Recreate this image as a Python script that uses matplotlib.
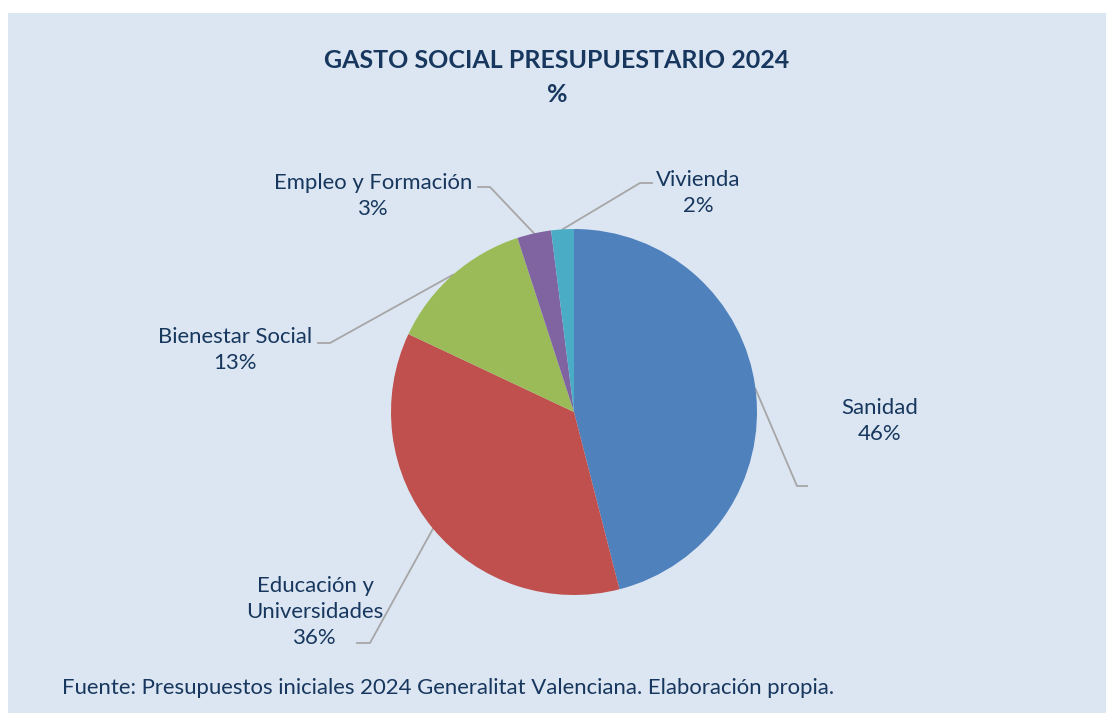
import matplotlib
matplotlib.use("Agg")
import matplotlib.pyplot as plt
import numpy as np

categories = ["Sanidad", "Educación y\nUniversidades", "Bienestar Social", "Empleo y Formación", "Vivienda"]
values = [46, 36, 13, 3, 2]
pct_labels = ["46%", "36%", "13%", "3%", "2%"]
colors = ["#4F81BD", "#C0504D", "#9BBB59", "#8064A2", "#4BACC6"]

title = "GASTO SOCIAL PRESUPUESTARIO 2024"
subtitle = "%"
footer = "Fuente: Presupuestos iniciales 2024 Generalitat Valenciana. Elaboración propia."

W, H = 1106, 713
FONT = "Lato"
TXT = "#17375E"
plt.rcParams['font.family'] = [FONT, 'DejaVu Sans']

fig = plt.figure(figsize=(W / 100, H / 100), dpi=100)
fig.patch.set_facecolor("white")

def fx(x):
    return x / W

def fy(y):
    return 1 - y / H

# background panel
fig.patches.append(plt.Rectangle((fx(8), 0), 1 - fx(8), fy(13), transform=fig.transFigure,
                                 facecolor="#DCE6F2", edgecolor="none", zorder=-10))

cx, cy, r = 574, 412, 183
ax = fig.add_axes([fx(cx - r), fy(cy + r), 2 * r / W, 2 * r / H])
ax.set_zorder(1)
wedges, _ = ax.pie(values, colors=colors, startangle=90, counterclock=False, radius=1,
                   wedgeprops=dict(linewidth=0))
ax.set_xlim(-1, 1)
ax.set_ylim(-1, 1)
ax.axis("off")

fig.text(fx(557), fy(60), title, ha="center", va="center",
         fontsize=18, fontweight="bold", color=TXT)
fig.text(fx(557), fy(95), subtitle, ha="center", va="center",
         fontsize=18, fontweight="bold", color=TXT)
fig.text(fx(62), fy(688), footer, ha="left", va="center", fontsize=15.9, color=TXT)

# label layout: (elbow x, elbow y, line end x, text center x, text center y)
layout = [
    (797, 486, 807, 880, 421),
    (370, 643, 357, 315, 612),
    (330, 343, 318, 235, 350),
    (490, 187, 478, 373, 196),
    (640, 183, 652, 698, 193),
]

for w, cat, pct, (ex, ey, lx, tx, ty) in zip(wedges, categories, pct_labels, layout):
    ang = np.deg2rad((w.theta1 + w.theta2) / 2)
    px, py = ax.transData.transform((np.cos(ang), np.sin(ang)))
    ax_x, ax_y = px, H - py
    fig.add_artist(plt.Line2D([fx(ax_x), fx(ex), fx(lx)], [fy(ax_y), fy(ey), fy(ey)],
                              transform=fig.transFigure, color="#A6A6A6", linewidth=1.3,
                              zorder=0))
    fig.text(fx(tx), fy(ty), cat + "\n" + pct, ha="center", va="center", fontsize=15.9,
             color=TXT, linespacing=1.38)

fig.savefig("out.png", dpi=100, facecolor="white")
